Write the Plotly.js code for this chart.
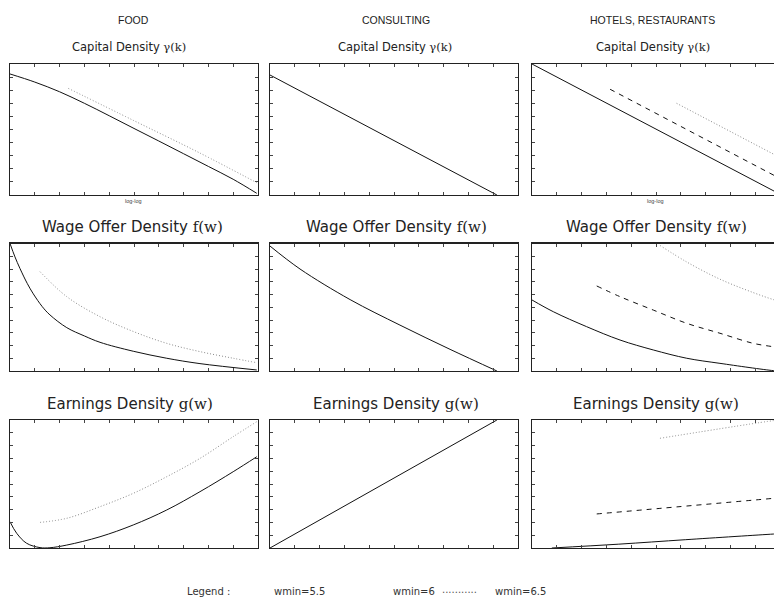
<!DOCTYPE html>
<html>
<head>
<meta charset="utf-8">
<script src="https://cdn.plot.ly/plotly-3.0.1.min.js"></script>
<style>html,body{margin:0;padding:0;overflow:hidden;background:#fff;}#chart{width:782px;height:600px;}</style>
</head>
<body>
<div id="chart"></div>
<script>
// ---- data (arbitrary units, axes have no tick labels) ----
const columnTitles = ["FOOD", "CONSULTING", "HOTELS, RESTAURANTS"];
const legendLabels = ["wmin=5.5", "wmin=6", "wmin=6.5"];

// Capital density (log-log)
const foodCapX_55 = [0, 1, 2, 3, 4, 5, 6, 7, 8, 9, 9.95];
const foodCapY_55 = [9.24, 8.62, 7.88, 7.0, 6.05, 5.08, 4.12, 3.15, 2.18, 1.2, 0.13];
const foodCapX_65 = [2.35, 4.97, 7.66, 9.95];
const foodCapY_65 = [8.14, 5.7, 3.2, 0.94];
const consCapX_55 = [0, 9.15];
const consCapY_55 = [9.16, 0];
const hotCapX_55 = [0, 10];
const hotCapY_55 = [10, 0.06];
const hotCapX_6 = [3.15, 10];
const hotCapY_6 = [8.07, 1.26];
const hotCapX_65 = [5.83, 10];
const hotCapY_65 = [7.0, 2.86];

// Wage offer density
const foodWageX_55 = [0, 0.2, 0.4, 0.7, 0.94, 1.3, 1.61, 2.29, 3.0, 3.63, 4.97, 6.32, 7.66, 9.95];
const foodWageY_55 = [10, 8.95, 8.05, 6.85, 6.05, 5.05, 4.4, 3.4, 2.75, 2.25, 1.55, 1.0, 0.58, 0.08];
const foodWageX_65 = [1.21, 2.29, 3.63, 4.97, 6.32, 7.66, 9.0, 9.95];
const foodWageY_65 = [7.79, 5.83, 4.26, 3.1, 2.17, 1.52, 1.0, 0.65];
const consWageX_55 = [0, 1.21, 3.23, 5.24, 7.26, 9.15];
const consWageY_55 = [9.8, 8.0, 5.6, 3.6, 1.7, 0];
const hotWageX_55 = [0, 0.86, 2.2, 3.55, 4.89, 6.24, 7.58, 9.73, 10];
const hotWageY_55 = [5.57, 4.65, 3.48, 2.43, 1.65, 1.0, 0.6, 0.03, 0.0];
const hotWageX_6 = [2.61, 3.55, 4.89, 6.24, 7.58, 8.92, 9.73, 10];
const hotWageY_6 = [6.67, 5.83, 4.78, 3.74, 2.96, 2.17, 1.9, 1.8];
const hotWageX_65 = [5.16, 6.24, 7.58, 8.92, 9.73, 10];
const hotWageY_65 = [9.85, 8.55, 7.2, 6.15, 5.6, 5.45];

// Earnings density
const foodEarnX_55 = [0, 0.27, 0.67, 1.21, 1.61, 2.29, 3.63, 4.97, 6.32, 7.66, 9.0, 9.95];
const foodEarnY_55 = [2.05, 1.15, 0.37, 0.03, 0.02, 0.23, 0.88, 1.8, 2.97, 4.4, 5.96, 7.13];
const foodEarnX_65 = [1.21, 2.29, 3.63, 4.97, 6.32, 7.66, 9.0, 9.95];
const foodEarnY_65 = [2.0, 2.32, 3.23, 4.27, 5.57, 7.0, 8.7, 9.87];
const consEarnX_55 = [0, 9.15];
const consEarnY_55 = [0, 10];
const hotEarnX_55 = [0.8, 3.5, 6.2, 9.73, 10];
const hotEarnY_55 = [0, 0.3, 0.65, 1.09, 1.12];
const hotEarnX_6 = [2.61, 9.73, 10];
const hotEarnY_6 = [2.66, 3.88, 3.93];
const hotEarnX_65 = [5.16, 9.73, 10];
const hotEarnY_65 = [8.57, 9.95, 10.0];

// ---- layout geometry ----
const W = 782, H = 600;
const colPx = [[10, 258], [270, 518], [532, 780]];
const rowPx = [[64, 195], [243.5, 371], [420, 548]];
const px = x => x / W;
const py = y => 1 - y / H;

const styles = {
  s55: {color: "#111", width: 1.0, dash: "solid"},
  s6: {color: "#111", width: 1.0, dash: "5px,5px"},
  s65: {color: "#8a8a8a", width: 1, dash: "1px,2px"}
};

// panel index = row*3 + col
const series = [
  [0, 0, foodCapX_55, foodCapY_55, "s55"], [0, 0, foodCapX_65, foodCapY_65, "s65"],
  [0, 1, consCapX_55, consCapY_55, "s55"],
  [0, 2, hotCapX_55, hotCapY_55, "s55"], [0, 2, hotCapX_6, hotCapY_6, "s6"], [0, 2, hotCapX_65, hotCapY_65, "s65"],
  [1, 0, foodWageX_55, foodWageY_55, "s55"], [1, 0, foodWageX_65, foodWageY_65, "s65"],
  [1, 1, consWageX_55, consWageY_55, "s55"],
  [1, 2, hotWageX_55, hotWageY_55, "s55"], [1, 2, hotWageX_6, hotWageY_6, "s6"], [1, 2, hotWageX_65, hotWageY_65, "s65"],
  [2, 0, foodEarnX_55, foodEarnY_55, "s55"], [2, 0, foodEarnX_65, foodEarnY_65, "s65"],
  [2, 1, consEarnX_55, consEarnY_55, "s55"],
  [2, 2, hotEarnX_55, hotEarnY_55, "s55"], [2, 2, hotEarnX_6, hotEarnY_6, "s6"], [2, 2, hotEarnX_65, hotEarnY_65, "s65"]
];

const traces = series.map(([r, c, xs, ys, st]) => {
  const n = r * 3 + c + 1;
  return {
    type: "scatter", mode: "lines", x: xs, y: ys,
    xaxis: "x" + (n === 1 ? "" : n), yaxis: "y" + (n === 1 ? "" : n),
    line: Object.assign({shape: "spline", smoothing: 1}, styles[st]),
    hoverinfo: "skip", showlegend: false
  };
});

const layout = {
  width: W, height: H,
  margin: {l: 0, r: 0, t: 0, b: 0},
  paper_bgcolor: "#fff", plot_bgcolor: "#fff",
  showlegend: false,
  annotations: []
};

const axBase = {
  showline: true, linecolor: "#222", linewidth: 1.4, mirror: "ticks",
  ticks: "inside", ticklen: 3, tickwidth: 1, tickcolor: "#444",
  showticklabels: false, showgrid: false, zeroline: false,
  range: [0, 10], dtick: 1, tick0: 0, fixedrange: true
};

for (let r = 0; r < 3; r++) {
  for (let c = 0; c < 3; c++) {
    const n = r * 3 + c + 1;
    const xk = "xaxis" + (n === 1 ? "" : n), yk = "yaxis" + (n === 1 ? "" : n);
    layout[xk] = Object.assign({}, axBase, {
      domain: [px(colPx[c][0]), px(colPx[c][1])],
      anchor: "y" + (n === 1 ? "" : n)
    });
    layout[yk] = Object.assign({}, axBase, {
      domain: [py(rowPx[r][1]), py(rowPx[r][0])],
      anchor: "x" + (n === 1 ? "" : n)
    });
  }
}

const sans = "Liberation Sans, Arial, sans-serif";
const dsans = "DejaVu Sans, sans-serif";
const serifSpan = t => '<span style="font-family:\'DejaVu Serif\', serif">' + t + '</span>';
function ann(text, x, y, size, family, color) {
  layout.annotations.push({
    text: text, x: px(x), y: py(y), xref: "paper", yref: "paper",
    xanchor: "center", yanchor: "middle", showarrow: false,
    font: {size: size, family: family, color: color || "#222"}
  });
}

const headerCenters = [133, 396, 652];
columnTitles.forEach((t, i) => ann(t, headerCenters[i], 20, 10.5, sans));
const capCenters = [129, 395, 653];
capCenters.forEach(cx => ann("Capital Density " + serifSpan("γ(k)"), cx, 47, 11.5, dsans));
const wageCenters = [132, 396, 656];
wageCenters.forEach(cx => ann("Wage Offer Density " + serifSpan("f(w)"), cx, 227, 15, dsans));
const earnCenters = [130, 396, 656];
earnCenters.forEach(cx => ann("Earnings Density " + serifSpan("g(w)"), cx, 404, 15, dsans));
ann("log-log", 133, 201, 5.5, sans, "#444");
ann("log-log", 655, 201, 5.5, sans, "#444");

// legend line
ann("Legend :", 208, 591, 10, dsans, "#333");
ann(legendLabels[0], 299, 591, 10, dsans, "#333");
ann(legendLabels[1], 414, 591, 10, dsans, "#333");
ann("...........", 459, 589, 10, dsans, "#555");
ann(legendLabels[2], 520, 591, 10, dsans, "#333");

Plotly.newPlot("chart", traces, layout, {staticPlot: true, displayModeBar: false});
</script>
</body>
</html>
